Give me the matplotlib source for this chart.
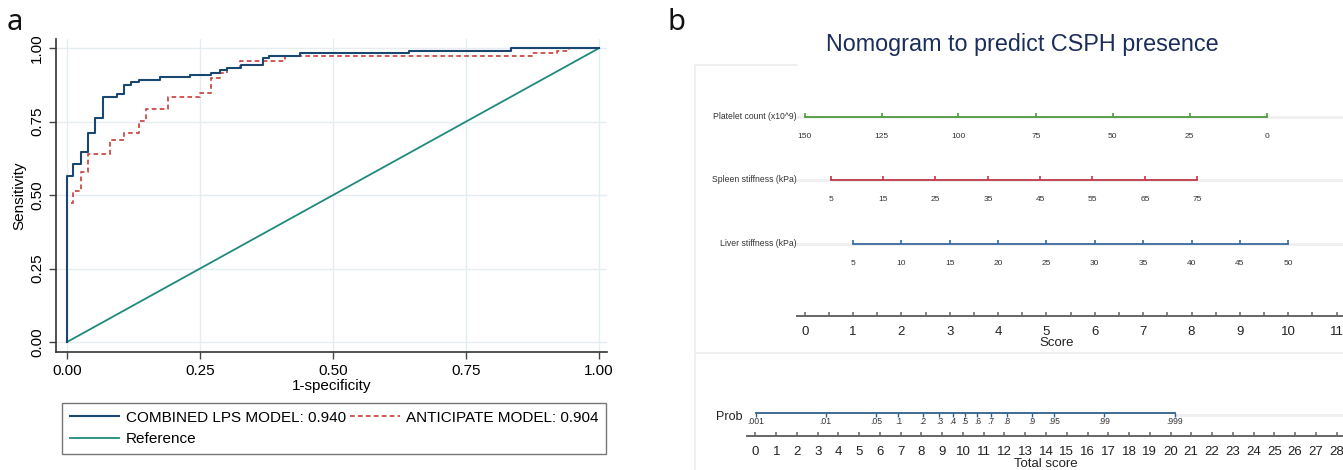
import numpy as np
import matplotlib
matplotlib.use("Agg")
import matplotlib.pyplot as plt

# ---------------- DATA ----------------
# ROC curves (steps: at fpr[i] the sensitivity rises to tpr[i])
fpr_combined = [0, 0, 0.012, 0.026, 0.040, 0.053, 0.067, 0.094, 0.108, 0.121, 0.135,
                0.175, 0.232, 0.271, 0.287, 0.300, 0.327, 0.368, 0.380, 0.438, 0.643, 0.835, 1.0]
tpr_combined = [0, 0.565, 0.605, 0.647, 0.712, 0.762, 0.834, 0.844, 0.876, 0.885, 0.893,
                0.901, 0.909, 0.917, 0.925, 0.934, 0.943, 0.965, 0.974, 0.983, 0.991, 1.0, 1.0]
fpr_anticipate = [0, 0, 0.012, 0.026, 0.040, 0.081, 0.108, 0.135, 0.149, 0.190, 0.250,
                  0.271, 0.287, 0.300, 0.325, 0.410, 0.873, 0.920, 0.944, 1.0]
tpr_anticipate = [0, 0.474, 0.515, 0.580, 0.639, 0.689, 0.712, 0.753, 0.794, 0.834, 0.846,
                  0.899, 0.917, 0.931, 0.957, 0.974, 0.983, 0.991, 1.0, 1.0]
ref_x = [0, 1]
ref_y = [0, 1]
roc_ticks = [0.00, 0.25, 0.50, 0.75, 1.00]
roc_ticklabels = ["0.00", "0.25", "0.50", "0.75", "1.00"]
legend_labels = ["COMBINED LPS MODEL: 0.940", "ANTICIPATE MODEL: 0.904", "Reference"]

# Nomogram
var_names = ["Platelet count (x10^9)", "Spleen stiffness (kPa)", "Liver stiffness (kPa)"]
platelet_vals = [150, 125, 100, 75, 50, 25, 0]
platelet_points = [0.0, 1.59, 3.18, 4.78, 6.37, 7.96, 9.56]
spleen_vals = [5, 15, 25, 35, 45, 55, 65, 75]
spleen_points = [0.54, 1.62, 2.70, 3.79, 4.87, 5.95, 7.04, 8.12]
liver_vals = [5, 10, 15, 20, 25, 30, 35, 40, 45, 50]
liver_points = [1.0, 2.0, 3.0, 4.0, 5.0, 6.0, 7.0, 8.0, 9.0, 10.0]
score_ticks = list(range(0, 12))
total_ticks = list(range(0, 29))
prob_vals = [0.001, 0.01, 0.05, 0.1, 0.2, 0.3, 0.4, 0.5, 0.6, 0.7, 0.8, 0.9, 0.95, 0.99, 0.999]
prob_labels = [".001", ".01", ".05", ".1", ".2", ".3", ".4", ".5", ".6", ".7", ".8", ".9",
               ".95", ".99", ".999"]
total_at_p50 = 10.1        # total score where predicted prob = 0.5
total_per_logit = 1.462    # total score per unit of log-odds

# ---------------- LAYOUT ----------------
W, H = 1343, 470
fig = plt.figure(figsize=(W / 100, H / 100), dpi=100)
plt.rcParams['font.family'] = ['Liberation Sans', 'DejaVu Sans']

def box(l, t, r, b):
    return [l / W, 1 - b / H, (r - l) / W, (b - t) / H]

NARROW = ['Liberation Sans Narrow', 'Liberation Sans', 'DejaVu Sans']

# ---------------- PANEL A: ROC ----------------
ax = fig.add_axes(box(56, 39, 607, 352))
c_blue = '#1a476f'
c_red = '#cc4b4b'
c_teal = '#1f8a7c'
ax.grid(True, color='#e4eef1', lw=1.0)
ax.set_axisbelow(True)
l_ref, = ax.plot(ref_x, ref_y, color=c_teal, lw=1.3)
l_ant, = ax.plot(fpr_anticipate, tpr_anticipate, drawstyle='steps-post', color=c_red,
                 lw=1.3, dashes=(2.6, 1.8))
l_comb, = ax.plot(fpr_combined, tpr_combined, drawstyle='steps-post', color=c_blue, lw=1.5)
ax.set_xlim(-0.0207, 1.0148)
ax.set_ylim(-0.034, 1.031)
ax.set_xticks(roc_ticks)
ax.set_xticklabels(roc_ticklabels, fontsize=11)
ax.set_yticks(roc_ticks)
ax.set_yticklabels(roc_ticklabels, fontsize=11, rotation=90, va='center')
ax.tick_params(direction='out', length=5, width=1, color='#444', pad=3.5)
for s in ['top', 'right']:
    ax.spines[s].set_visible(False)
for s in ['left', 'bottom']:
    ax.spines[s].set_color('#333')
    ax.spines[s].set_linewidth(1.2)
ax.set_xlabel("1-specificity", fontsize=11, labelpad=1)
ax.set_ylabel("Sensitivity", fontsize=11, labelpad=3)

leg = fig.legend([l_comb, l_ref, l_ant], [legend_labels[0], legend_labels[2], legend_labels[1]],
                 ncol=2, loc='upper left', bbox_to_anchor=(62 / W, 1 - 403 / H),
                 bbox_transform=fig.transFigure, fontsize=11.0, frameon=True,
                 fancybox=False, borderpad=0.5, labelspacing=0.5, handlelength=3.25,
                 handletextpad=0.42, columnspacing=0.27, borderaxespad=0)
leg.get_frame().set_edgecolor('#555')
leg.get_frame().set_linewidth(1.0)

fig.text(15 / W, 1 - 22 / H, "a", fontsize=21, ha='center', va='center',
         family=['Noto Sans', 'DejaVu Sans'], color='#111')
fig.text(676 / W, 1 - 22 / H, "b", fontsize=21, ha='center', va='center',
         family=['Noto Sans', 'DejaVu Sans'], color='#111')

# ---------------- PANEL B: NOMOGRAM ----------------
fig.text(1022 / W, 1 - 45 / H, "Nomogram to predict CSPH presence", fontsize=16.8,
         color='#1b2d5b', ha='center', va='center')

# layout rows (pixel rows within panel)
ROW_Y = [116.5, 179.5, 243.5]
LAB_DY = 20
SCORE_Y = 316
PROB_Y = 413
TOTAL_Y = 436
TICK = 4
row_colors = ['#4e9a3c', '#c0394a', '#3a6aa0']
txt_col = '#333333'

axn = fig.add_axes(box(695, 60, 1343, 470))
axn.set_xlim((695 - 804.7) / 48.35, (1343 - 804.7) / 48.35)
axn.set_ylim(470, 60)
axn.axis('off')
x_lo, x_hi = axn.get_xlim()

# faint panel frame
axn.plot([x_lo, x_lo], [65, 470], color='#eeeeee', lw=1.2, clip_on=False)
axn.plot([x_lo, -0.16], [65, 65], color='#eeeeee', lw=1.2, clip_on=False)
axn.plot([x_lo, x_hi], [353, 353], color='#ececec', lw=1.2)

rows = [(platelet_vals, platelet_points), (spleen_vals, spleen_points), (liver_vals, liver_points)]
for (vals, pts), y, col, name in zip(rows, ROW_Y, row_colors, var_names):
    axn.plot([-0.16, x_hi], [y, y], color='#efefef', lw=2, zorder=1)
    axn.plot([min(pts), max(pts)], [y, y], color=col, lw=1.3, zorder=2)
    axn.vlines(pts, y - TICK, y, color=col, lw=1.2, zorder=2)
    for v, p in zip(vals, pts):
        axn.text(p, y + LAB_DY, str(v), fontsize=6.0, family=NARROW, color=txt_col,
                 ha='center', va='center')
    axn.text(-0.17, y, name, fontsize=6.2, family=NARROW, color=txt_col,
             ha='right', va='center')

# Score axis
axn.plot([-0.16, x_hi], [SCORE_Y, SCORE_Y], color='#666', lw=1.4, clip_on=False)
half = np.arange(0, 11.5, 0.5)
axn.vlines(half, SCORE_Y - TICK, SCORE_Y, color='#666', lw=1.1)
for s in score_ticks:
    axn.text(s, SCORE_Y + 15.5, str(s), fontsize=9.5, color='#222', ha='center', va='center')
axn.text(5.22, SCORE_Y + 27, "Score", fontsize=9.5, color='#222', ha='center', va='center')

# Total score / probability axes
axt = fig.add_axes(box(695, 60, 1343, 470))
axt.set_xlim((695 - 755.5) / 20.75, (1343 - 755.5) / 20.75)
axt.set_ylim(470, 60)
axt.axis('off')
axt.patch.set_alpha(0)
t_lo, t_hi = axt.get_xlim()

p = np.array(prob_vals)
t_prob = total_at_p50 + total_per_logit * np.log(p / (1 - p))
axt.plot([t_prob[-1], t_hi], [PROB_Y + 2, PROB_Y + 2], color='#efefef', lw=2, zorder=1)
axt.plot([t_prob[0], t_prob[-1]], [PROB_Y, PROB_Y], color='#2f5f8a', lw=1.3, zorder=2)
axt.vlines(t_prob, PROB_Y, PROB_Y + 4, color='#2f5f8a', lw=1.0, zorder=2)
for tp, lab in zip(t_prob, prob_labels):
    axt.text(tp, PROB_Y + 8, lab, fontsize=6.2, family=NARROW, color=txt_col,
             ha='center', va='center')
axt.text(-0.62, PROB_Y + 4, "Prob", fontsize=9, color='#222', ha='right', va='center')

axt.plot([-0.4, t_hi], [TOTAL_Y, TOTAL_Y], color='#666', lw=1.4)
axt.vlines(total_ticks, TOTAL_Y - TICK, TOTAL_Y, color='#666', lw=1.1)
for t in total_ticks:
    axt.text(t, TOTAL_Y + 15.5, str(t), fontsize=9.5, color='#222', ha='center', va='center')
axt.text(14.0, TOTAL_Y + 27.5, "Total score", fontsize=9.5, color='#222',
         ha='center', va='center')

fig.savefig("out.png", dpi=100)
